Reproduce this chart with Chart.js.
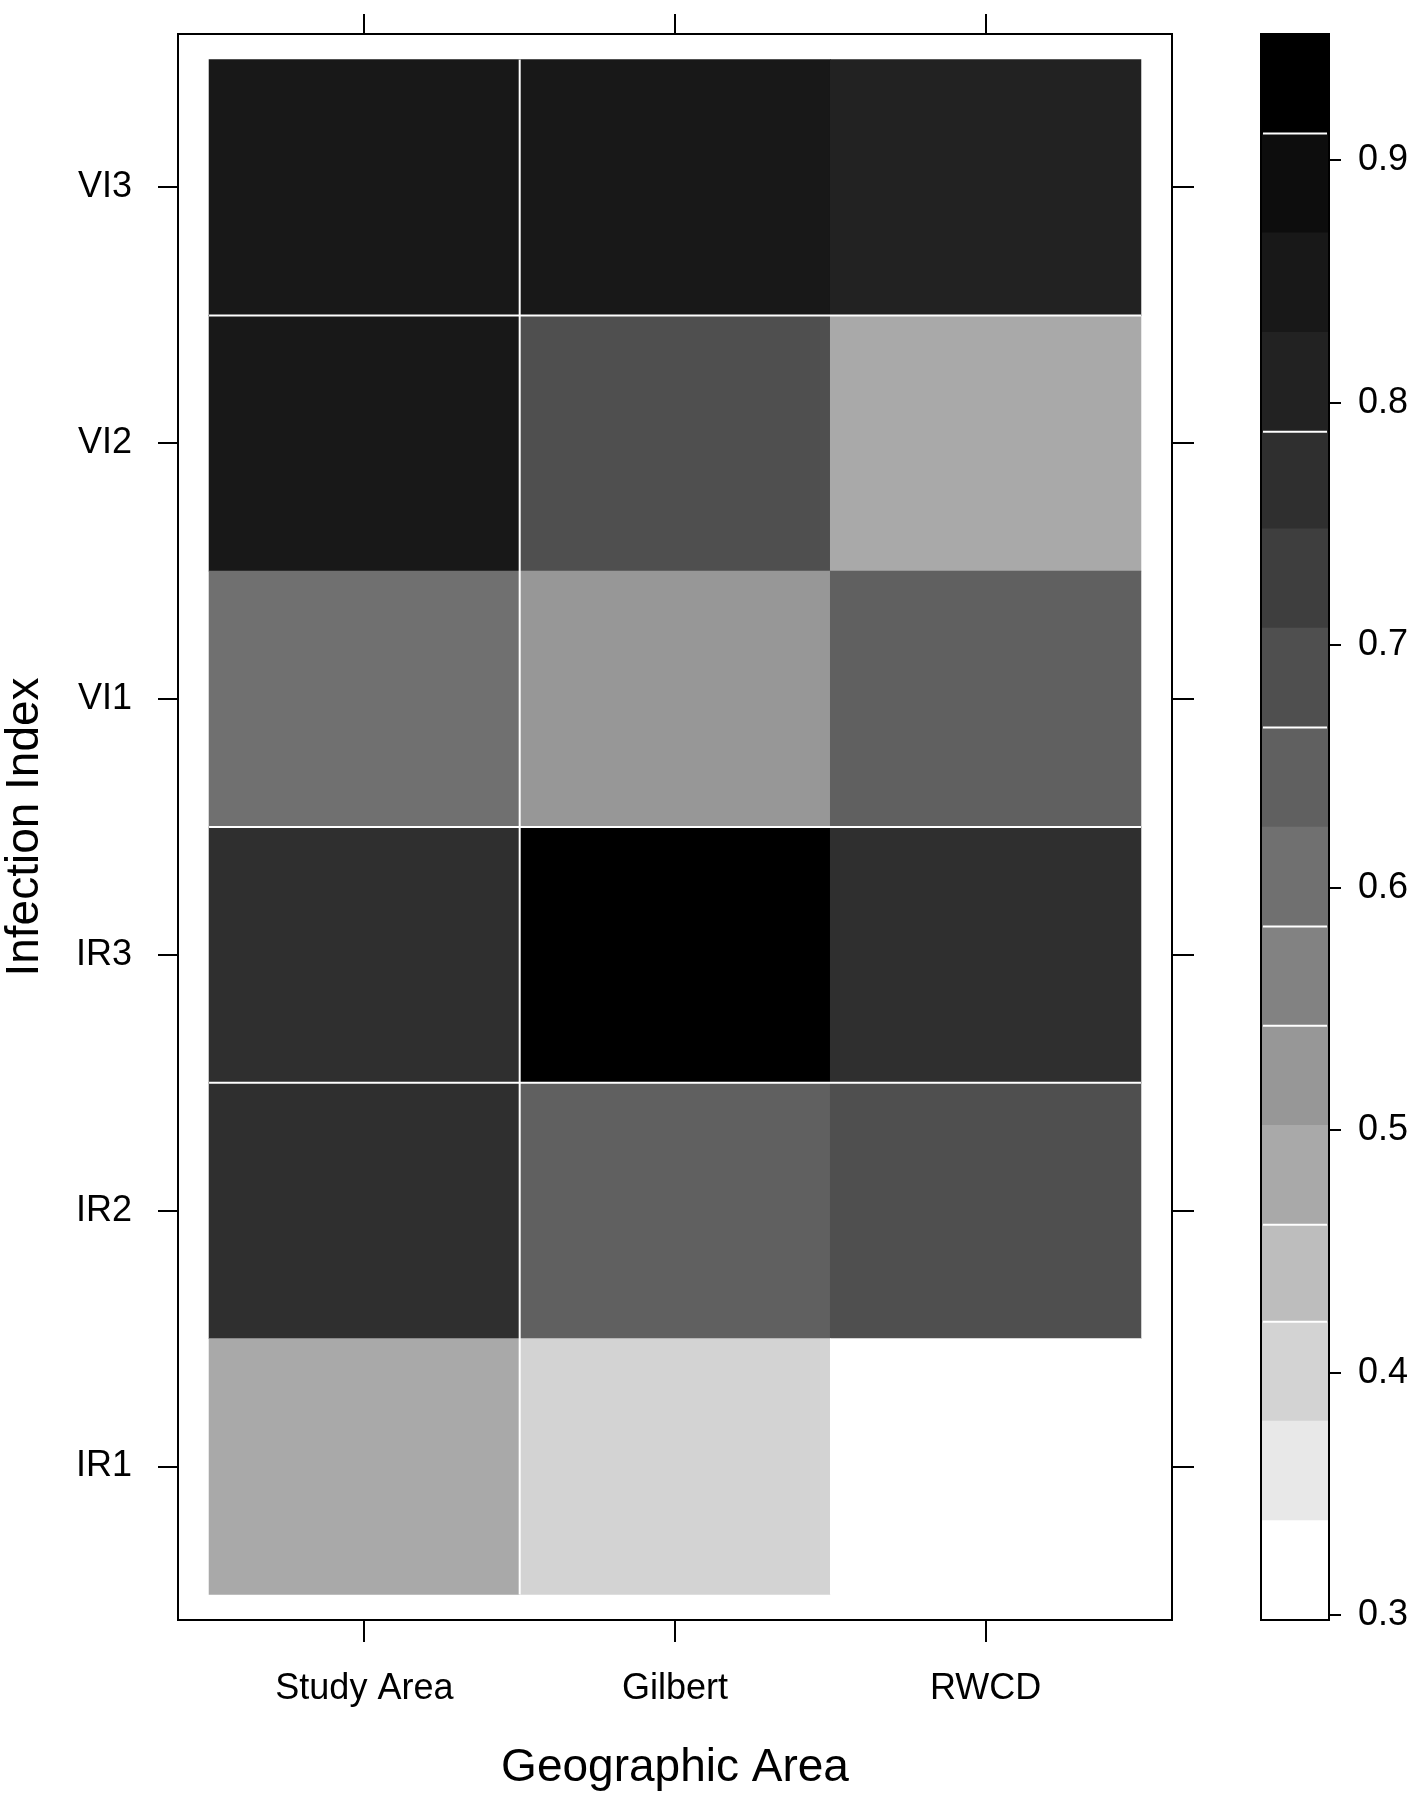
<!DOCTYPE html>
<html>
<head>
<meta charset="utf-8">
<script src="https://cdn.jsdelivr.net/npm/chart.js@4.4.1/dist/chart.umd.min.js"></script>
<style>
  body { margin: 0; background: #fff; }
  #wrap { position: relative; width: 1417px; height: 1800px; }
  #main { position: absolute; left: 0; top: 0; }
  #key { position: absolute; left: 1240px; top: 0; }
</style>
</head>
<body>
<div id="wrap">
  <canvas id="main" width="1240" height="1800"></canvas>
  <canvas id="key" width="177" height="1800"></canvas>
</div>
<script>
const areas = ['Study Area', 'Gilbert', 'RWCD'];
const indices = ['IR1', 'IR2', 'IR3', 'VI1', 'VI2', 'VI3'];

// one array per index, values in the order of areas
const ir1 = [0.48, 0.40, 0.335];
const ir2 = [0.77, 0.64, 0.69];
const ir3 = [0.77, 0.915, 0.77];
const vi1 = [0.60, 0.52, 0.64];
const vi2 = [0.85, 0.69, 0.48];
const vi3 = [0.85, 0.85, 0.81];
const rows = [ir1, ir2, ir3, vi1, vi2, vi3];

// colour key: 16 grey levels between these breaks
const breaks = [0.298, 0.339, 0.380, 0.421, 0.461, 0.502, 0.543, 0.584, 0.625,
                0.666, 0.707, 0.748, 0.788, 0.829, 0.870, 0.911, 0.952];
const shades = ['#ffffff', '#e8e8e8', '#d3d3d3', '#bdbdbd', '#a9a9a9', '#979797', '#828282', '#707070',
                '#606060', '#4f4f4f', '#3e3e3e', '#2f2f2f', '#222222', '#181818', '#0d0d0d', '#000000'];
const keyTicks = [0.3, 0.4, 0.5, 0.6, 0.7, 0.8, 0.9];

// white seams left by the renderer in the original
const seamRows = [2.5, 3.5, 5.5];
const seamCols = [1.5];
const seamBreaks = [0.911, 0.788, 0.666, 0.584, 0.543, 0.461, 0.421];

const family = "'Liberation Sans', Arial, Helvetica, sans-serif";
const tickFont = { family, size: 36 };
const titleFont = { family, size: 46, lineHeight: 1.1 };
Chart.defaults.font.family = family;
Chart.defaults.color = '#000';

function shadeFor(v) {
    for (let i = 0; i < shades.length; i++) {
        if (v < breaks[i + 1]) return shades[i];
    }
    return shades[shades.length - 1];
}

const axisLine = { color: '#000', width: 2 };
function tickGrid(len) {
    return { drawOnChartArea: false, color: '#000', lineWidth: 2, tickLength: len, offset: false };
}
// fixed axis size, and no extra room asked for the end labels
function fixWidth(w) {
    return s => { s.width = w; s.paddingTop = 0; s.paddingBottom = 0; };
}
function fixHeight(h) {
    return s => { s.height = h; s.paddingLeft = 0; s.paddingRight = 0; };
}

const seams = {
    id: 'seams',
    afterDatasetsDraw(chart) {
        const { ctx, scales: { x, y } } = chart;
        ctx.save();
        ctx.strokeStyle = '#fff';
        ctx.lineWidth = 2;
        seamRows.forEach(r => {
            const py = y.getPixelForValue(r);
            ctx.beginPath();
            ctx.moveTo(x.getPixelForValue(0.5), py);
            ctx.lineTo(x.getPixelForValue(3.5), py);
            ctx.stroke();
        });
        seamCols.forEach(c => {
            const px = x.getPixelForValue(c);
            ctx.beginPath();
            ctx.moveTo(px, y.getPixelForValue(0.5));
            ctx.lineTo(px, y.getPixelForValue(6.5));
            ctx.stroke();
        });
        ctx.restore();
    }
};

const cellSets = rows.map((vals, r) => ({
    label: indices[r],
    data: vals.map((v, c) => ({ x: c + 1, y: [r + 0.5, r + 1.5] })),
    backgroundColor: vals.map(shadeFor),
    borderWidth: 0,
    grouped: false,
    barPercentage: 1,
    categoryPercentage: 1
}));

const areaTicks = s => { s.ticks = areas.map((a, i) => ({ value: i + 1 })); };
const indexTicks = s => { s.ticks = indices.map((n, i) => ({ value: i + 1 })); };

new Chart(document.getElementById('main'), {
    type: 'bar',
    data: { datasets: cellSets },
    options: {
        responsive: false,
        animation: false,
        events: [],
        layout: { padding: 0 },
        plugins: { legend: { display: false }, tooltip: { enabled: false } },
        scales: {
            x: {
                type: 'linear', position: 'bottom', min: 0.4, max: 3.6, bounds: 'data', offset: false,
                afterBuildTicks: areaTicks,
                afterFit: fixHeight(180),
                ticks: { callback: v => areas[v - 1], font: tickFont, color: '#000', padding: 25, maxRotation: 0, autoSkip: false },
                grid: tickGrid(22),
                border: axisLine,
                title: { display: true, text: 'Geographic Area', font: titleFont, color: '#000', padding: { top: 0, bottom: 6 } }
            },
            x2: {
                type: 'linear', position: 'top', min: 0.4, max: 3.6, bounds: 'data', offset: false,
                afterBuildTicks: areaTicks,
                afterFit: fixHeight(34),
                ticks: { display: false },
                grid: tickGrid(20),
                border: axisLine
            },
            y: {
                type: 'linear', position: 'left', min: 0.4, max: 6.6, bounds: 'data',
                afterBuildTicks: indexTicks,
                afterFit: fixWidth(178),
                ticks: { callback: v => indices[v - 1], font: tickFont, color: '#000', padding: 26, autoSkip: false },
                grid: tickGrid(20),
                border: axisLine,
                title: { display: true, text: 'Infection Index', font: titleFont, color: '#000', padding: { top: 0, bottom: 0 } }
            },
            y2: {
                type: 'linear', position: 'right', min: 0.4, max: 6.6, bounds: 'data',
                afterBuildTicks: indexTicks,
                afterFit: fixWidth(68),
                ticks: { display: false },
                grid: tickGrid(22),
                border: axisLine
            }
        }
    },
    plugins: [seams]
});

// colour key
const frame = {
    id: 'frame',
    afterDraw(chart) {
        const { ctx, chartArea: a, scales: { y } } = chart;
        ctx.save();
        ctx.strokeStyle = '#fff';
        ctx.lineWidth = 2;
        seamBreaks.forEach(b => {
            const py = y.getPixelForValue(b);
            ctx.beginPath();
            ctx.moveTo(a.left + 2, py);
            ctx.lineTo(a.right - 2, py);
            ctx.stroke();
        });
        ctx.strokeStyle = '#000';
        ctx.strokeRect(a.left, a.top, a.right - a.left, a.bottom - a.top);
        ctx.restore();
    }
};

const keySets = shades.map((col, i) => ({
    data: [[breaks[i], breaks[i + 1]]],
    backgroundColor: col,
    borderWidth: 0,
    grouped: false,
    barPercentage: 1,
    categoryPercentage: 1
}));

new Chart(document.getElementById('key'), {
    type: 'bar',
    data: { labels: ['key'], datasets: keySets },
    options: {
        responsive: false,
        animation: false,
        events: [],
        layout: { padding: { left: 21, top: 34, bottom: 180, right: 0 } },
        plugins: { legend: { display: false }, tooltip: { enabled: false } },
        scales: {
            x: { display: false },
            y: {
                position: 'right', min: 0.298, max: 0.952, bounds: 'data',
                afterBuildTicks: s => { s.ticks = keyTicks.map(value => ({ value })); },
                afterFit: fixWidth(88),
                ticks: { callback: v => v.toFixed(1), font: tickFont, color: '#000', padding: 17 },
                grid: tickGrid(12),
                border: axisLine
            }
        }
    },
    plugins: [frame]
});
</script>
</body>
</html>
